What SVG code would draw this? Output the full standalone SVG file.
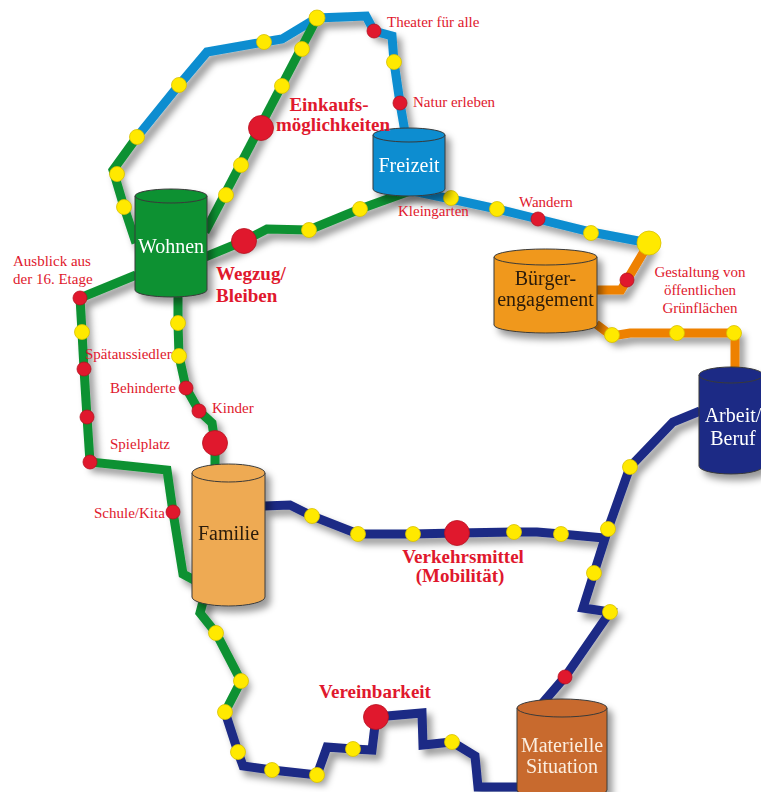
<svg xmlns="http://www.w3.org/2000/svg" width="761" height="792" viewBox="0 0 761 792">
<defs>
<filter id="sh" x="-20%" y="-20%" width="140%" height="140%">
<feDropShadow dx="5" dy="6" stdDeviation="3.5" flood-color="#000" flood-opacity="0.4"/>
</filter>
</defs>
<style>
.ln{fill:none;stroke-width:9;stroke-linejoin:miter;stroke-linecap:butt}
.g{stroke:#0b9130}.b{stroke:#0a8dd0}.n{stroke:#1b2a85}.o{stroke:#ee8100}
.y{fill:#ffe900;stroke:#d8c000;stroke-width:0.8}
.r{fill:#e0182d;stroke:#b8101f;stroke-width:0.8}
.cyl{stroke:#3a3a3a;stroke-width:1}
.lb{font-family:"Liberation Serif",serif;font-size:15px;fill:#e0182d}
.bl{font-family:"Liberation Serif",serif;font-size:19px;font-weight:bold;fill:#e0182d}
.nt{font-family:"Liberation Serif",serif;font-size:20px;text-anchor:middle}
</style>
<rect width="761" height="792" fill="#fff"/>
<g id="connectors" filter="url(#sh)">
<polyline class="ln g" points="136,243 124,207 113,170 137,137"/>
<polyline class="ln b" points="137,137 179,85 207,52 264,42 282,39 317,18 366,16 374,31 392,36 394,62 400,103 405,132"/>
<polyline class="ln b" points="408,190 451,199 497,209 538,219 591,232 649,243"/>
<polyline class="ln g" points="205,232 317,18"/>
<polyline class="ln g" points="205,257 244,241 267,229 309,230 360,209 410,191"/>
<polyline class="ln g" points="136,275 80,298 82,332 84,369 87,417 90,462 167,470 173,512 183,574 194,580"/>
<polyline class="ln g" points="178,296 178,323 179,356 186,388 199,411 212,423 215,443 215,470"/>
<polyline class="ln g" points="204,598 200,613 216,633 241,681 225,712"/>
<polyline class="ln n" points="225,712 238,752 243,766 272,770 317,775 327,747 353,749 372,750 376,717 422,713 423,745 452,742 475,756 478,787 520,787"/>
<polyline class="ln n" points="264,506 290,505 312,516 358,534 413,534 457,533 514,532 537,532 561,534 604,538"/>
<polyline class="ln n" points="700,411 673,422 630,467 608,529 594,573 583,608 610,612 565,677 540,706"/>
<polyline class="ln o" points="649,243 627,280 621,290 596,290"/>
<polyline class="ln o" points="596,324 612,336 630,333 677,333 735,333 735,368"/>
</g>
<g id="stations">
<circle class="y" cx="124" cy="207" r="7.5"/>
<circle class="y" cx="117" cy="174" r="7.5"/>
<circle class="y" cx="137" cy="137" r="7.5"/>
<circle class="y" cx="179" cy="85" r="7.5"/>
<circle class="y" cx="264" cy="42" r="7.5"/>
<circle class="y" cx="317" cy="18" r="8"/>
<circle class="y" cx="302" cy="49" r="7.5"/>
<circle class="y" cx="282" cy="86" r="7.5"/>
<circle class="y" cx="241" cy="165" r="7.5"/>
<circle class="y" cx="226" cy="195" r="7.5"/>
<circle class="y" cx="394" cy="62" r="7.5"/>
<circle class="y" cx="309" cy="230" r="7.5"/>
<circle class="y" cx="360" cy="209" r="7.5"/>
<circle class="y" cx="451" cy="198" r="7.5"/>
<circle class="y" cx="497" cy="209" r="7.5"/>
<circle class="y" cx="591" cy="233" r="7.5"/>
<circle class="y" cx="82" cy="332" r="7.5"/>
<circle class="y" cx="178" cy="323" r="7.5"/>
<circle class="y" cx="179" cy="356" r="7.5"/>
<circle class="y" cx="216" cy="633" r="7.5"/>
<circle class="y" cx="241" cy="681" r="7.5"/>
<circle class="y" cx="225" cy="712" r="7.5"/>
<circle class="y" cx="238" cy="752" r="7.5"/>
<circle class="y" cx="272" cy="770" r="7.5"/>
<circle class="y" cx="317" cy="775" r="7.5"/>
<circle class="y" cx="353" cy="749" r="7.5"/>
<circle class="y" cx="452" cy="742" r="7.5"/>
<circle class="y" cx="312" cy="516" r="7.5"/>
<circle class="y" cx="358" cy="534" r="7.5"/>
<circle class="y" cx="413" cy="534" r="7.5"/>
<circle class="y" cx="514" cy="532" r="7.5"/>
<circle class="y" cx="561" cy="534" r="7.5"/>
<circle class="y" cx="608" cy="529" r="7.5"/>
<circle class="y" cx="594" cy="573" r="7.5"/>
<circle class="y" cx="630" cy="467" r="7.5"/>
<circle class="y" cx="610" cy="612" r="7.5"/>
<circle class="y" cx="612" cy="335" r="7.5"/>
<circle class="y" cx="677" cy="333" r="7.5"/>
<circle class="y" cx="734" cy="333" r="7.5"/>
<circle class="y" cx="649" cy="243" r="12"/>
<circle class="r" cx="374" cy="31" r="7"/>
<circle class="r" cx="400" cy="103" r="7"/>
<circle class="r" cx="538" cy="219" r="7"/>
<circle class="r" cx="627" cy="280" r="7"/>
<circle class="r" cx="80" cy="298" r="7"/>
<circle class="r" cx="84" cy="369" r="7"/>
<circle class="r" cx="87" cy="417" r="7"/>
<circle class="r" cx="90" cy="462" r="7"/>
<circle class="r" cx="173" cy="512" r="7"/>
<circle class="r" cx="186" cy="388" r="7"/>
<circle class="r" cx="199" cy="411" r="7"/>
<circle class="r" cx="565" cy="677" r="7"/>
<circle class="r" cx="261" cy="128" r="12.5"/>
<circle class="r" cx="244" cy="241" r="12.5"/>
<circle class="r" cx="215" cy="443" r="12.5"/>
<circle class="r" cx="457" cy="533" r="12.5"/>
<circle class="r" cx="376" cy="717" r="12.5"/>
</g>
<g id="wohnen" filter="url(#sh)">
<path class="cyl" fill="#0b9130" d="M135,196 L135,290 A36,7 0 0 0 207,290 L207,196 Z"/>
<ellipse class="cyl" fill="#0b9130" cx="171" cy="196" rx="36" ry="7"/>
<text class="nt" x="171" y="253" fill="#fff">Wohnen</text>
</g>
<g id="freizeit" filter="url(#sh)">
<path class="cyl" fill="#0a8dd0" d="M373,135 L373,189 A36,7 0 0 0 445,189 L445,135 Z"/>
<ellipse class="cyl" fill="#0a8dd0" cx="409" cy="135" rx="36" ry="7"/>
<text class="nt" x="409" y="172" fill="#fff">Freizeit</text>
</g>
<g id="buerger" filter="url(#sh)">
<path class="cyl" fill="#f0981a" d="M494,257 L494,325 A51.5,8 0 0 0 597,325 L597,257 Z"/>
<ellipse class="cyl" fill="#f0981a" cx="545.5" cy="257" rx="51.5" ry="8"/>
<text class="nt" x="545.5" y="285" fill="#2a1a0a">Bürger-</text>
<text class="nt" x="545.5" y="306" fill="#2a1a0a">engagement</text>
</g>
<g id="familie" filter="url(#sh)">
<path class="cyl" fill="#eeaa52" d="M192,473 L192,597 A36.5,9 0 0 0 265,597 L265,473 Z"/>
<ellipse class="cyl" fill="#eeaa52" cx="228.5" cy="473" rx="36.5" ry="9"/>
<text class="nt" x="228.5" y="540" fill="#2a1a0a">Familie</text>
</g>
<g id="arbeit" filter="url(#sh)">
<path class="cyl" fill="#1b2a85" d="M699,375 L699,466 A32,8 0 0 0 763,466 L763,375 Z"/>
<ellipse class="cyl" fill="#1b2a85" cx="731" cy="375" rx="32" ry="8" stroke="#fff"/>
<text class="nt" x="733" y="422" fill="#fff">Arbeit/</text>
<text class="nt" x="733" y="445" fill="#fff">Beruf</text>
</g>
<g id="materielle" filter="url(#sh)">
<path class="cyl" fill="#c86a2d" d="M517,708 L517,790 A45,9 0 0 0 607,790 L607,708 Z"/>
<ellipse class="cyl" fill="#c86a2d" cx="562" cy="708" rx="45" ry="9"/>
<text class="nt" x="562" y="752" fill="#fbeee0" font-size="21">Materielle</text>
<text class="nt" x="562" y="773" fill="#fbeee0" font-size="21">Situation</text>
</g>
<g id="labels">
<text class="lb" x="387" y="27">Theater für alle</text>
<text class="lb" x="413" y="107">Natur erleben</text>
<text class="lb" x="519" y="207">Wandern</text>
<text class="lb" x="398" y="216" font-size="13" fill="#222">Kleingarten</text>
<text class="lb" x="13" y="266">Ausblick aus</text>
<text class="lb" x="13" y="284">der 16. Etage</text>
<text class="lb" x="85" y="359">Spätaussiedler</text>
<text class="lb" x="110" y="393">Behinderte</text>
<text class="lb" x="212" y="413">Kinder</text>
<text class="lb" x="110" y="449">Spielplatz</text>
<text class="lb" x="94" y="518">Schule/Kita</text>
<text class="lb" x="700" y="277" text-anchor="middle">Gestaltung von</text>
<text class="lb" x="700" y="295" text-anchor="middle">öffentlichen</text>
<text class="lb" x="700" y="313" text-anchor="middle">Grünflächen</text>
<text class="bl" x="329" y="111" text-anchor="middle" font-size="18">Einkaufs-</text>
<text class="bl" x="333" y="131" text-anchor="middle" font-size="18">möglichkeiten</text>
<text class="bl" x="216" y="280">Wegzug/</text>
<text class="bl" x="216" y="302">Bleiben</text>
<text class="bl" x="463" y="563" text-anchor="middle">Verkehrsmittel</text>
<text class="bl" x="460" y="582" text-anchor="middle">(Mobilität)</text>
<text class="bl" x="375" y="698" text-anchor="middle">Vereinbarkeit</text>
</g>
</svg>
